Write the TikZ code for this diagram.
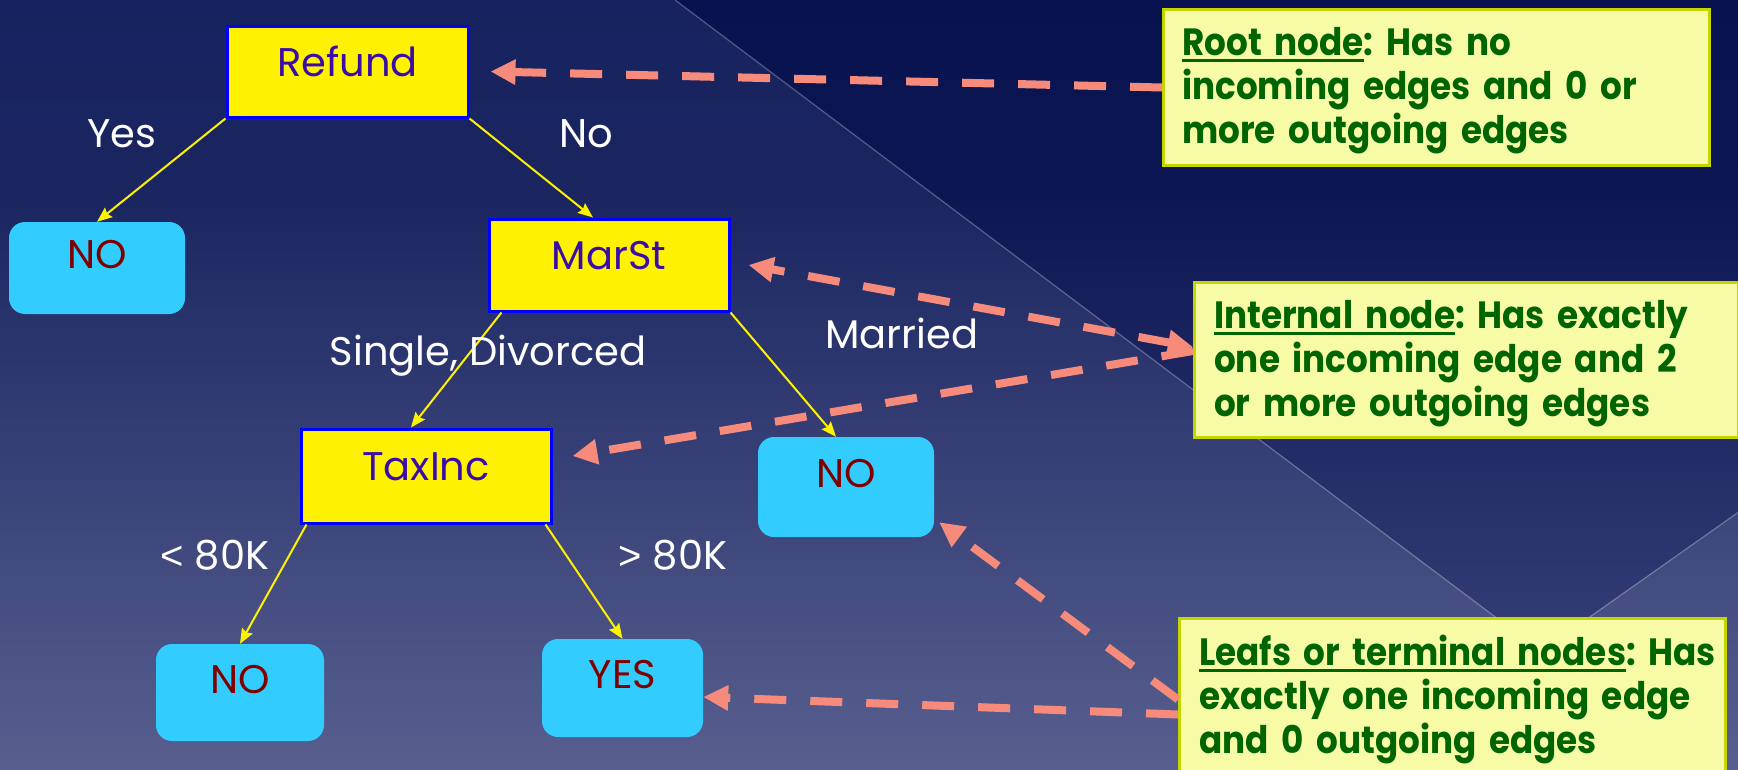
\documentclass[tikz,border=0pt]{standalone}
\usepackage{fontspec}
\setmainfont{Poppins}
\newfontfamily\notefont{Poppins}[FakeStretch=0.9]
\newfontfamily\relfont{Liberation Sans}
\usetikzlibrary{arrows.meta}

% palette
\definecolor{bgtop}{HTML}{17235E}
\definecolor{bgmid}{HTML}{1B2661}
\definecolor{bgbot}{HTML}{585F8F}
\definecolor{rtop}{HTML}{08124F}
\definecolor{rmid}{HTML}{0C1653}
\definecolor{rbot}{HTML}{353D75}
\definecolor{nodeborder}{HTML}{0000FF}
\definecolor{nodetext}{HTML}{3A0CA8}
\definecolor{leafblue}{HTML}{33CCFF}
\definecolor{leaftext}{HTML}{800000}
\definecolor{salmon}{HTML}{F68B7B}
\definecolor{notefill}{HTML}{F8FBA6}
\definecolor{noteborder}{HTML}{C5D500}
\definecolor{notegreen}{HTML}{006400}

\pgfdeclareverticalshading{leftbg}{100bp}{color(0bp)=(bgbot); color(25bp)=(bgbot); color(62bp)=(bgmid); color(75bp)=(bgtop); color(100bp)=(bgtop)}
\pgfdeclareverticalshading{rightbg}{100bp}{color(0bp)=(rbot); color(25bp)=(rbot); color(60bp)=(rmid); color(75bp)=(rtop); color(100bp)=(rtop)}

% underlined term in the notes
\newcommand{\annotul}[1]{\leavevmode\setbox0=\hbox{#1}\rlap{\rule[-7pt]{\wd0}{3pt}}\box0}

\begin{document}
\frenchspacing
\begin{tikzpicture}[x=1pt,y=-1pt,
  treefont/.style={font=\fontsize{40}{44}\selectfont},
  decision/.style={treefont, draw=nodeborder, line width=3pt, fill=yellow,
    text=nodetext, inner sep=0pt, text height=29pt, text depth=20pt},
  leaf/.style={treefont, fill=leafblue, rounded corners=16pt, text=leaftext,
    inner sep=0pt, text height=29pt, text depth=28pt},
  lbl/.style={treefont, text=white, inner sep=0pt, anchor=base},
  treeedge/.style={draw=yellow, line width=2pt,
    -{Stealth[length=15pt,width=12pt,inset=2pt]}},
  notebox/.style={anchor=north west, draw=noteborder, line width=3pt, fill=notefill,
    inner sep=0pt},
  notelines/.style={anchor=north west, text=notegreen,
    font=\notefont\bfseries\fontsize{38}{44}\selectfont,
    align=left, text width=600pt, inner sep=0pt, text height=27pt},
  callout/.style={draw=salmon, line width=8pt, dash pattern=on 32pt off 24pt,
    >={Triangle[length=25pt,width=24pt]}},
  bgline/.style={draw=white, draw opacity=0.28, line width=1.2pt}]

% background planes
\clip (0,0) rectangle (1738,769);
\shade[shading=leftbg] (0,0) rectangle (1738,769);
\shade[shading=rightbg] (675,0) -- (1738,0) -- (1738,512) -- (1541,651) -- cycle;
\draw[bgline] (675,0) -- (1700,771);
\draw[bgline] (1340,793) -- (1760,497);

% decision tree
\node[decision, minimum width=241pt, minimum height=91pt] (refund) at (347.5,71.5) {Refund};
\node[leaf, minimum width=176pt, minimum height=92pt] (no1) at (97,268) {NO};
\node[decision, minimum width=240pt, minimum height=92pt] (marst) at (609,265) {MarSt};
\node[decision, minimum width=250pt, minimum height=94pt] (taxinc) at (426,476) {TaxInc};
\node[leaf, minimum width=176pt, minimum height=100pt] (no2) at (846,487) {NO};
\node[leaf, minimum width=168pt, minimum height=97pt] (no3) at (240,692.5) {NO};
\node[leaf, minimum width=161pt, minimum height=98pt] (yes) at (622.5,688) {YES};

\draw[treeedge] (refund.south west) -- (no1.north);
\draw[treeedge] (refund.south east) -- ([xshift=-16pt]marst.north);
\draw[treeedge] ([xshift=14pt]marst.south west) -- ([xshift=-15pt]taxinc.north);
\draw[treeedge] (marst.south east) -- ([xshift=-10pt]no2.north);
\draw[treeedge] ([xshift=7pt]taxinc.south west) -- (no3.north);
\draw[treeedge] ([xshift=-7pt]taxinc.south east) -- (yes.north);

\node[lbl] (lyes) at (122,147) {Yes};
\node[lbl] (lno) at (586,147) {No};
\node[lbl] (lsingle) at (488,365) {Single, Divorced};
\node[lbl] (lmarried) at (902,348) {Married};
\node[lbl] (llow) at (215,569) {{\relfont<} 80K};
\node[lbl] (lhigh) at (673,569) {{\relfont>} 80K};

% explanatory notes
\node[notebox, minimum width=546pt, minimum height=156pt] (rootnote) at (1162,8) {};
\node[notelines] (roottext) at ([xshift=20pt,yshift=-20pt]rootnote.north west)
  {\annotul{Root node}: Has no\\incoming edges and 0 or\\more outgoing edges};
\node[notebox, minimum width=544pt, minimum height=155pt] (internalnote) at (1193,281) {};
\node[notelines] (internaltext) at ([xshift=21pt,yshift=-20pt]internalnote.north west)
  {\annotul{Internal node}: Has exactly\\one incoming edge and 2\\or more outgoing edges};
\node[notebox, minimum width=546pt, minimum height=156pt] (leafnote) at (1178,617) {};
\node[notelines] (leaftext) at ([xshift=21pt,yshift=-21pt]leafnote.north west)
  {\annotul{Leafs or terminal nodes}: Has\\exactly one incoming edge\\and 0 outgoing edges};

\draw[callout, ->] (rootnote.west) -- ([xshift=21pt]refund.east);
\draw[callout, <->] ([yshift=13pt]internalnote.west) -- ([xshift=18pt]marst.east);
\draw[callout, ->] ([yshift=9pt]internalnote.west) -- ([xshift=20pt,yshift=20pt]taxinc.east);
\draw[callout, ->] ([yshift=-3pt]leafnote.west) -- ([xshift=5pt,yshift=15pt]no2.south east);
\draw[callout, ->] ([yshift=-18pt]leafnote.west) -- ([yshift=-9pt]yes.east);
\end{tikzpicture}
\end{document}
